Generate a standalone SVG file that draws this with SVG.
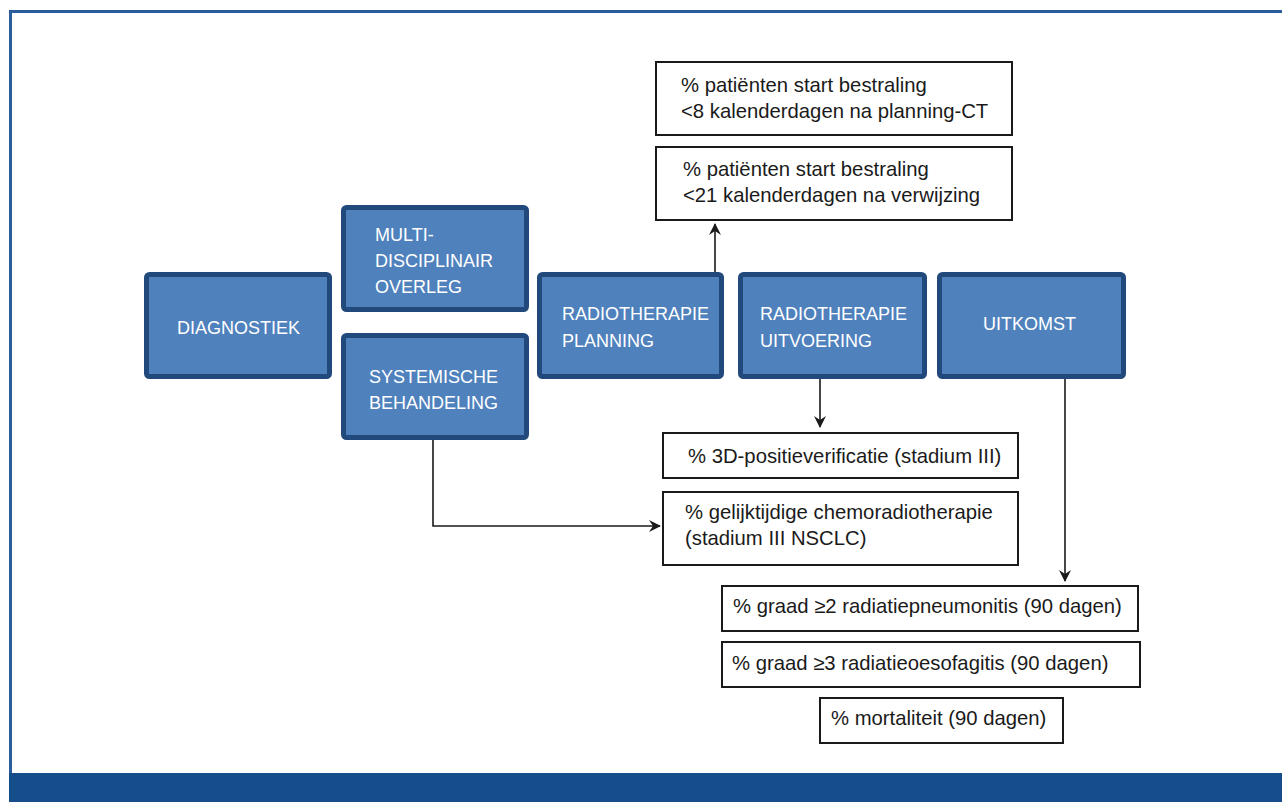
<svg xmlns="http://www.w3.org/2000/svg" width="1282" height="802" viewBox="0 0 1282 802">
<defs>
<style>
.blue{fill:#4f81bd;stroke:#22497c;stroke-width:5}
.wbox{fill:#ffffff;stroke:#1a1a1a;stroke-width:2}
.wt{font-family:"Liberation Sans",Arial,sans-serif;font-size:18px;fill:#ffffff}
.bt{font-family:"Liberation Sans",Arial,sans-serif;font-size:20.3px;fill:#1a1a1a}
.conn{fill:none;stroke:#1a1a1a;stroke-width:1.6}
</style>
<marker id="arr" viewBox="0 0 12 12" refX="11" refY="6" markerWidth="12" markerHeight="12" markerUnits="userSpaceOnUse" orient="auto">
<path d="M0,0 L12,6 L0,12 L4,6 z" fill="#1a1a1a"/>
</marker>
</defs>
<rect x="0" y="0" width="1282" height="802" fill="#ffffff"/>
<g id="frame">
<line x1="9" y1="11.5" x2="1282" y2="11.5" stroke="#2a5d9c" stroke-width="3"/>
<line x1="10.5" y1="10" x2="10.5" y2="773" stroke="#2a5d9c" stroke-width="3"/>
<rect x="9" y="773" width="1273" height="29" fill="#164e8b"/>
</g>
<g id="connectors">
<line class="conn" x1="715" y1="272" x2="715" y2="224" marker-end="url(#arr)"/>
<line class="conn" x1="820" y1="379" x2="820" y2="427" marker-end="url(#arr)"/>
<line class="conn" x1="1065" y1="379" x2="1065" y2="581" marker-end="url(#arr)"/>
<polyline class="conn" points="433,440 433,526 660,526" marker-end="url(#arr)"/>
</g>
<g id="diagnostiek">
<rect class="blue" x="146.5" y="274.5" width="183" height="102" rx="3"/>
<text class="wt" x="177" y="334">DIAGNOSTIEK</text>
</g>
<g id="mdo">
<rect class="blue" x="343.5" y="207.5" width="183" height="102" rx="3"/>
<text class="wt" x="375" y="241">MULTI-</text>
<text class="wt" x="375" y="267">DISCIPLINAIR</text>
<text class="wt" x="375" y="293">OVERLEG</text>
</g>
<g id="systemisch">
<rect class="blue" x="343.5" y="335.5" width="183" height="102" rx="3"/>
<text class="wt" x="369" y="383">SYSTEMISCHE</text>
<text class="wt" x="369" y="409">BEHANDELING</text>
</g>
<g id="rt-planning">
<rect class="blue" x="539.5" y="274.5" width="182" height="102" rx="3"/>
<text class="wt" x="562" y="320">RADIOTHERAPIE</text>
<text class="wt" x="562" y="347">PLANNING</text>
</g>
<g id="rt-uitvoering">
<rect class="blue" x="740.5" y="274.5" width="184" height="102" rx="3"/>
<text class="wt" x="760" y="320">RADIOTHERAPIE</text>
<text class="wt" x="760" y="347">UITVOERING</text>
</g>
<g id="uitkomst">
<rect class="blue" x="939.5" y="274.5" width="184" height="102" rx="3"/>
<text class="wt" x="983" y="330">UITKOMST</text>
</g>
<g id="ind-planningct">
<rect class="wbox" x="656" y="62" width="356" height="73"/>
<text class="bt" x="681" y="92">% patiënten start bestraling</text>
<text class="bt" x="681" y="118">&lt;8 kalenderdagen na planning-CT</text>
</g>
<g id="ind-verwijzing">
<rect class="wbox" x="656" y="147" width="356" height="73"/>
<text class="bt" x="683" y="176">% patiënten start bestraling</text>
<text class="bt" x="683" y="202">&lt;21 kalenderdagen na verwijzing</text>
</g>
<g id="ind-3d">
<rect class="wbox" x="663" y="433" width="355" height="45"/>
<text class="bt" x="688" y="463">% 3D-positieverificatie (stadium III)</text>
</g>
<g id="ind-chemo">
<rect class="wbox" x="663" y="492" width="355" height="73"/>
<text class="bt" x="685" y="519">% gelijktijdige chemoradiotherapie</text>
<text class="bt" x="685" y="545">(stadium III NSCLC)</text>
</g>
<g id="ind-pneumonitis">
<rect class="wbox" x="722" y="586" width="416" height="45"/>
<text class="bt" x="733" y="613">% graad ≥2 radiatiepneumonitis (90 dagen)</text>
</g>
<g id="ind-oesofagitis">
<rect class="wbox" x="722" y="642" width="418" height="45"/>
<text class="bt" x="732" y="670">% graad ≥3 radiatieoesofagitis (90 dagen)</text>
</g>
<g id="ind-mortaliteit">
<rect class="wbox" x="820" y="698" width="243" height="45"/>
<text class="bt" x="831" y="725">% mortaliteit (90 dagen)</text>
</g>
</svg>
